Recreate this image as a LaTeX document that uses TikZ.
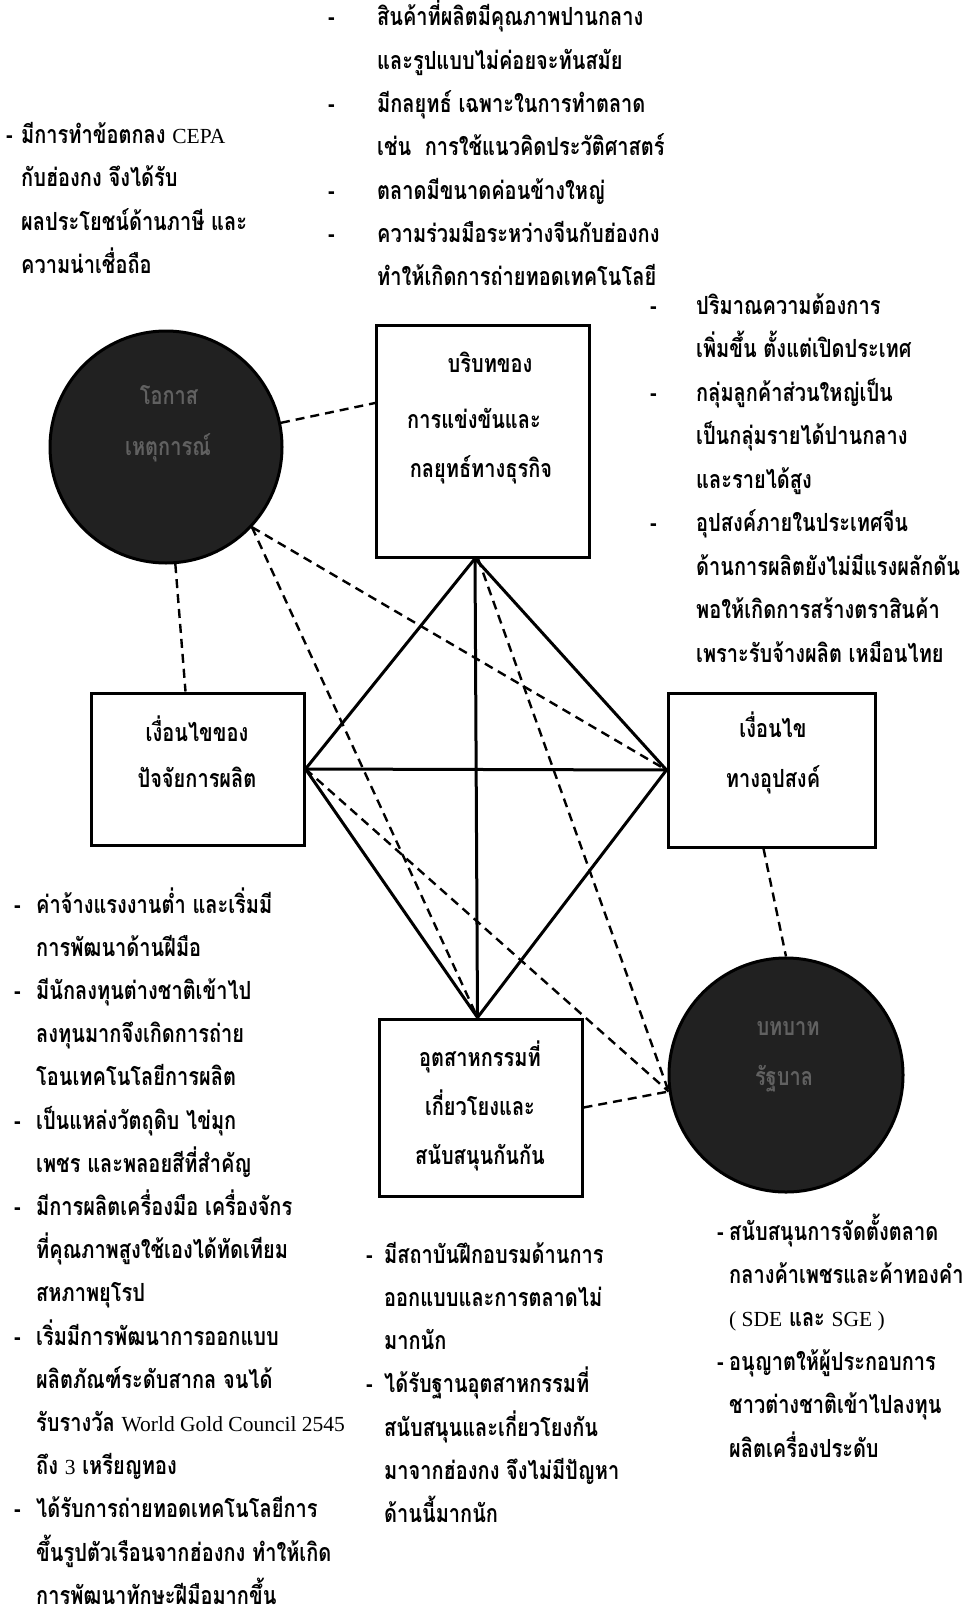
\documentclass[tikz,border=0pt]{standalone}
\usepackage{fontspec}
\newfontfamily\thaifont[Script=Thai, FakeStretch=0.8]{Loma}
\newfontfamily\latinfont{Liberation Serif}
\newcommand\lat[1]{{\latinfont\mdseries\fontsize{21.5}{28}\selectfont #1}}
\usetikzlibrary{calc}
\tikzset{
  txt/.style={inner sep=0pt, anchor=base west, font=\thaifont\bfseries\fontsize{25}{30}\selectfont},
  boxtxt/.style={txt, anchor=base},
  ctxt/.style={txt, anchor=base, text=black!62},
  boxnode/.style={draw, line width=3pt, inner sep=0pt},
  ball/.style={circle, draw, line width=3pt, fill=black!87, inner sep=0pt},
  strong/.style={line width=3pt},
  dlink/.style={line width=2.4pt, dash pattern=on 9pt off 6pt},
}
\newcommand\putlines[5]{%
  \foreach \linetext [count=\i from 0] in {#5} {\node[txt] (#1\i) at (#2, {#3+7+#4*\i}) {\linetext};}}
\newcommand\putdashes[5]{%
  \foreach \i in {#5} {\node[txt] (#1\i) at (#2, {#3+7+#4*\i}) {-};}}
\begin{document}
\begin{tikzpicture}[x=1pt,y=-1pt]
\useasboundingbox (0,0) rectangle (967,1616);
\fill[white] (0,0) rectangle (967,1616);

% boxes
\node[boxnode, minimum width=213pt, minimum height=232pt] (top) at (483,441) {};
\node[boxnode, minimum width=213pt, minimum height=152pt] (left) at (197.5,769) {};
\node[boxnode, minimum width=207pt, minimum height=154pt] (right) at (771.5,770) {};
\node[boxnode, minimum width=203pt, minimum height=177pt] (bottom) at (480.5,1107.5) {};

\node[boxtxt] (top1) at (490,{365+7}) {บริบทของ};
\node[boxtxt] (top2) at (474,{421+7}) {การแข่งขันและ};
\node[boxtxt] (top3) at (481,{470+7}) {กลยุทธ์ทางธุรกิจ};
\node[boxtxt] (left1) at (197,{734+7}) {เงื่อนไขของ};
\node[boxtxt] (left2) at (197,{780+7}) {ปัจจัยการผลิต};
\node[boxtxt] (right1) at (773,{730+7}) {เงื่อนไข};
\node[boxtxt] (right2) at (773,{780+7}) {ทางอุปสงค์};
\node[boxtxt] (bot1) at (480,{1059+7}) {อุตสาหกรรมที่};
\node[boxtxt] (bot2) at (480,{1108+7}) {เกี่ยวโยงและ};
\node[boxtxt] (bot3) at (480,{1157+7}) {สนับสนุนกันกัน};

% circles
\node[ball, minimum size=232pt] (c1) at (166,447) {};
\node[ball, minimum size=234pt] (c2) at (786,1075) {};
\node[ctxt] (c1a) at (169,{397+7}) {โอกาส};
\node[ctxt] (c1b) at (168,{448+7}) {เหตุการณ์};
\node[ctxt] (c2a) at (788,{1028+7}) {บทบาท};
\node[ctxt] (c2b) at (784,{1078+7}) {รัฐบาล};

% solid diamond
\coordinate (ts) at ([xshift=-8pt]top.south);
\coordinate (bn) at ([xshift=-3pt]bottom.north);
\draw[strong] (ts) -- (left.east);
\draw[strong] (ts) -- (right.west);
\draw[strong] (ts) -- (bn);
\draw[strong] (left.east) -- (right.west);
\draw[strong] (left.east) -- (bn);
\draw[strong] (right.west) -- (bn);

% dashed links
\coordinate (tw) at ([yshift=38pt]top.west);
\draw[dlink] (c1) -- (tw);
\draw[dlink] (c1) -- ([xshift=-12pt]left.north);
\draw[dlink] (c1.-43) -- (right.west);
\draw[dlink] (c1.-43) -- (bn);
\draw[dlink] ([xshift=-5pt]top.south) -- (c2.188);
\draw[dlink] (left.east) -- (c2.188);
\draw[dlink] (bottom.east) -- (c2.188);
\draw[dlink] ([xshift=-8pt]right.south) -- (c2.north);

% text blocks
\putlines{tt}{377}{19}{43.3}{สินค้าที่ผลิตมีคุณภาพปานกลาง, และรูปแบบไม่ค่อยจะทันสมัย, มีกลยุทธ์ เฉพาะในการทำตลาด, เช่น\ \ การใช้แนวคิดประวัติศาสตร์, ตลาดมีขนาดค่อนข้างใหญ่, ความร่วมมือระหว่างจีนกับฮ่องกง, ทำให้เกิดการถ่ายทอดเทคโนโลยี}
\putdashes{ttd}{328}{19}{43.3}{0,2,4,5}

\putlines{tl}{21}{137}{43}{มีการทำข้อตกลง \lat{CEPA}, กับฮ่องกง จึงได้รับ, ผลประโยชน์ด้านภาษี และ, ความน่าเชื่อถือ}
\putdashes{tld}{6}{137}{43}{0}

\putlines{rt}{696}{307}{43.5}{ปริมาณความต้องการ, เพิ่มขึ้น ตั้งแต่เปิดประเทศ, กลุ่มลูกค้าส่วนใหญ่เป็น, เป็นกลุ่มรายได้ปานกลาง, และรายได้สูง, อุปสงค์ภายในประเทศจีน, ด้านการผลิตยังไม่มีแรงผลักดัน, พอให้เกิดการสร้างตราสินค้า, เพราะรับจ้างผลิต เหมือนไทย}
\putdashes{rtd}{650}{307}{43.5}{0,2,5}

\putlines{lb}{36}{906}{43.2}{ค่าจ้างแรงงานต่ำ และเริ่มมี, การพัฒนาด้านฝีมือ, มีนักลงทุนต่างชาติเข้าไป, ลงทุนมากจึงเกิดการถ่าย, โอนเทคโนโลยีการผลิต, เป็นแหล่งวัตถุดิบ ไข่มุก, เพชร และพลอยสีที่สำคัญ, มีการผลิตเครื่องมือ เครื่องจักร, ที่คุณภาพสูงใช้เองได้ทัดเทียม, สหภาพยุโรป, เริ่มมีการพัฒนาการออกแบบ, ผลิตภัณฑ์ระดับสากล จนได้, รับรางวัล \lat{World Gold Council 2545}, ถึง \lat{3} เหรียญทอง, ได้รับการถ่ายทอดเทคโนโลยีการ, ขึ้นรูปตัวเรือนจากฮ่องกง ทำให้เกิด, การพัฒนาทักษะฝีมือมากขึ้น}
\putdashes{lbd}{14}{906}{43.2}{0,2,5,7,10,14}

\putlines{mb}{384}{1256}{43.3}{มีสถาบันฝึกอบรมด้านการ, ออกแบบและการตลาดไม่, มากนัก, ได้รับฐานอุตสาหกรรมที่, สนับสนุนและเกี่ยวโยงกัน, มาจากฮ่องกง จึงไม่มีปัญหา, ด้านนี้มากนัก}
\putdashes{mbd}{366}{1256}{43.3}{0,3}

\putlines{rb}{729}{1233}{43.4}{สนับสนุนการจัดตั้งตลาด, กลางค้าเพชรและค้าทองคำ, \lat{( SDE} และ \lat{SGE )}, อนุญาตให้ผู้ประกอบการ, ชาวต่างชาติเข้าไปลงทุน, ผลิตเครื่องประดับ}
\putdashes{rbd}{717}{1233}{43.4}{0,3}
\end{tikzpicture}
\end{document}
